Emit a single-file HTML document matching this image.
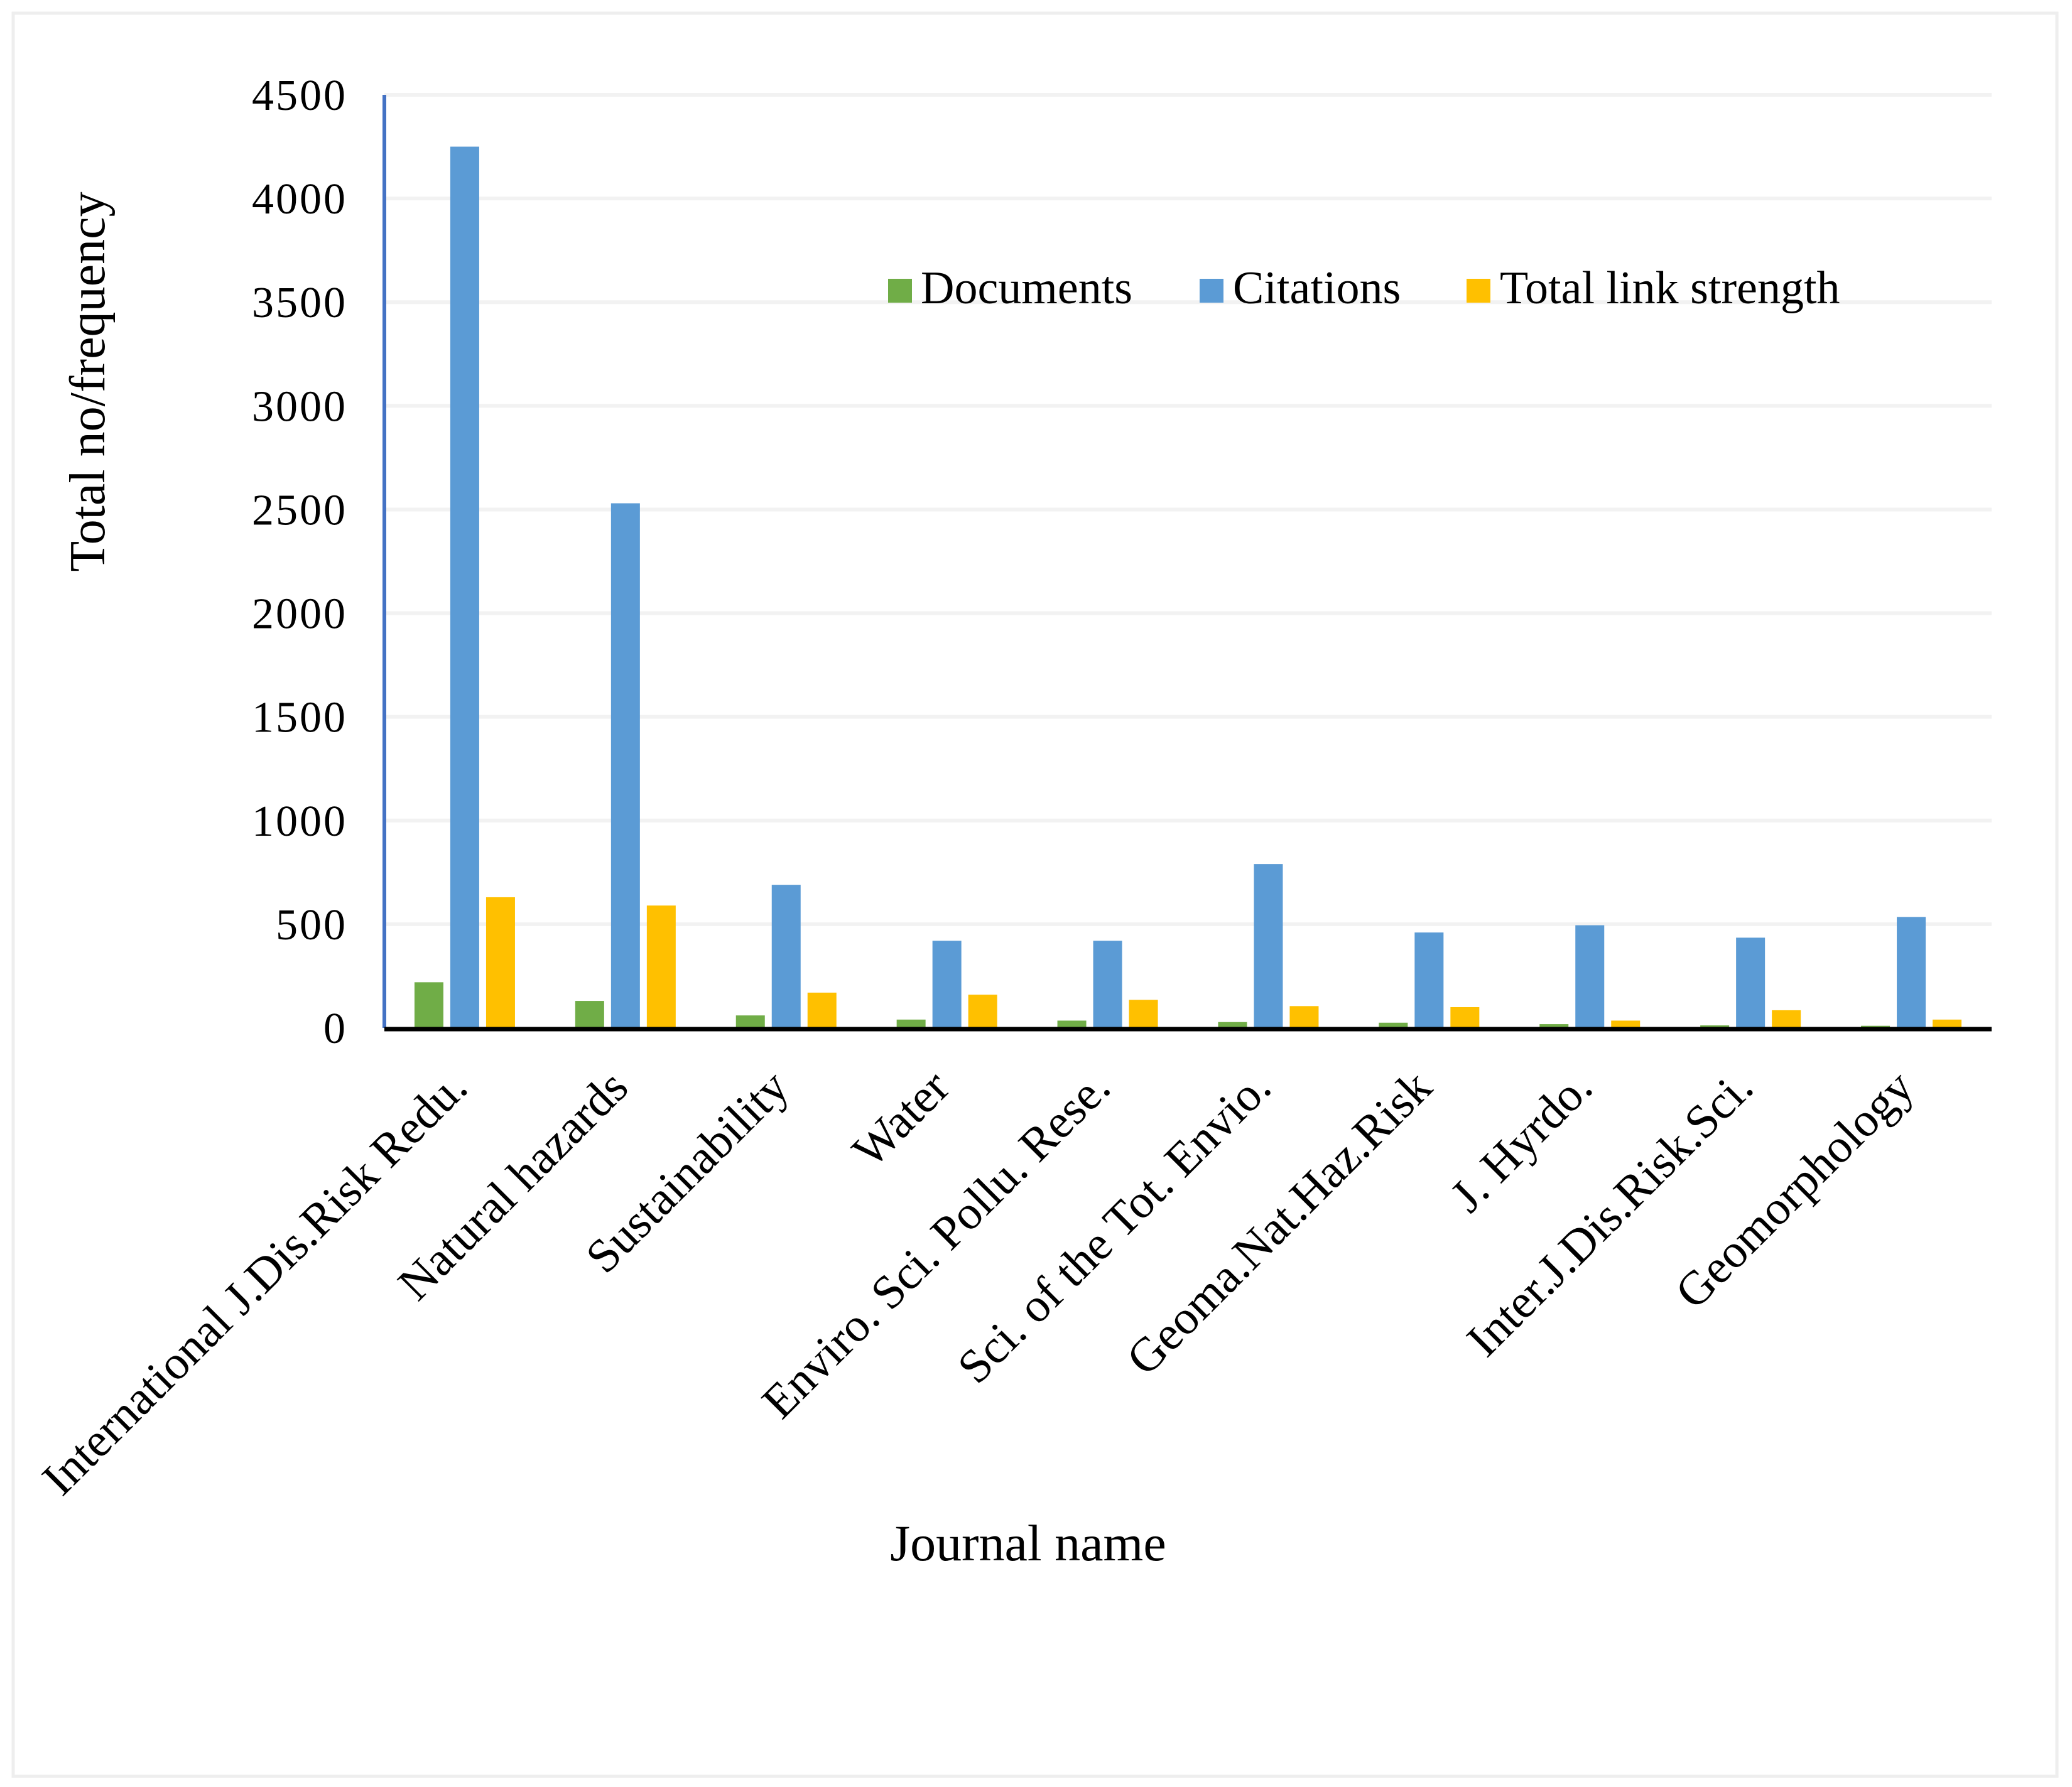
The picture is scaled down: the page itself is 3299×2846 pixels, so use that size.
<!DOCTYPE html>
<html><head><meta charset="utf-8"><style>
html,body{margin:0;padding:0;background:#fff;}
svg{display:block;font-family:"Liberation Serif",serif;}
</style></head><body>
<svg id="chart" width="3299" height="2846" viewBox="0 0 3299 2846">
<rect x="21" y="21" width="3254" height="2808" fill="#fff" stroke="#eeeeee" stroke-width="5"/>
<g id="grid"></g>
<g id="bars"></g>
<g id="axes"></g>
<g id="labels"></g>
<text x="166" y="608" font-size="80" text-anchor="middle" transform="rotate(-90 166 608)">Total no/frequency</text>
<text x="1637" y="2485" font-size="82" text-anchor="middle">Journal name</text>
<g>
<rect x="1414" y="444" width="38" height="38" fill="#70ad47"/>
<text x="1466" y="483" font-size="74">Documents</text>
<rect x="1910" y="444" width="38" height="38" fill="#5b9bd5"/>
<text x="1963" y="483" font-size="74">Citations</text>
<rect x="2335" y="444" width="38" height="38" fill="#ffc000"/>
<text x="2388" y="483" font-size="74">Total link strength</text>
</g>
</svg>
<script>
const categories = ["International J.Dis.Risk Redu.","Natural hazards","Sustainability","Water","Enviro. Sci.  Pollu. Rese.","Sci. of the Tot. Envio.","Geoma.Nat.Haz.Risk","J. Hyrdo.","Inter.J.Dis.Risk.Sci.","Geomorphology"];
const documents = [220,130,60,40,35,28,25,18,12,10];
const citations = [4250,2530,690,420,420,790,460,495,435,535];
const linkStrength = [630,590,170,160,135,105,100,35,85,40];
const yTicks = [0,500,1000,1500,2000,2500,3000,3500,4000,4500];

const NS="http://www.w3.org/2000/svg";
const L=612,R=3171,T=151,B=1637,YMAX=4500;
const y=v=>B-(v/YMAX)*(B-T);
const cw=(R-L)/categories.length;
const xc=i=>L+cw*(i+0.5);
function mk(tag,attrs,parent){const e=document.createElementNS(NS,tag);for(const k in attrs)e.setAttribute(k,attrs[k]);parent.appendChild(e);return e;}
const grid=document.getElementById('grid'),bars=document.getElementById('bars'),axes=document.getElementById('axes'),labels=document.getElementById('labels');
yTicks.forEach(t=>{
  if(t>0){const g=mk('line',{x1:L,x2:R,y1:y(t),y2:y(t),stroke:'#f2f2f2','stroke-width':6},grid);
  
  }
  const tx=mk('text',{x:553,y:y(t)+24,'font-size':70,'text-anchor':'end','letter-spacing':'3'},labels);
  tx.textContent=t;
  
  
});
const series=[[documents,'#70ad47','documents'],[citations,'#5b9bd5','citations'],[linkStrength,'#ffc000','link-strength']];
const bw=46,step=57;
categories.forEach((c,i)=>{
  series.forEach((s,j)=>{
    const v=s[0][i];const x=xc(i)+(j-1)*step-bw/2;
    const r=mk('rect',{x:x,y:y(v),width:bw,height:B-y(v),fill:s[1]},bars);
    
    
  });
  const ax=xc(i)+8,ay=1736;
  const t=mk('text',{x:ax,y:ay,'font-size':76,'text-anchor':'end',transform:'rotate(-45 '+ax+' '+ay+')'},labels);
  t.textContent=c;
  
  
});
const ya=mk('line',{x1:L,x2:L,y1:T,y2:B,stroke:'#4472c4','stroke-width':6},axes);


const xa=mk('line',{x1:L,x2:R,y1:B+2,y2:B+2,stroke:'#000','stroke-width':7},axes);


</script>
</body></html>
